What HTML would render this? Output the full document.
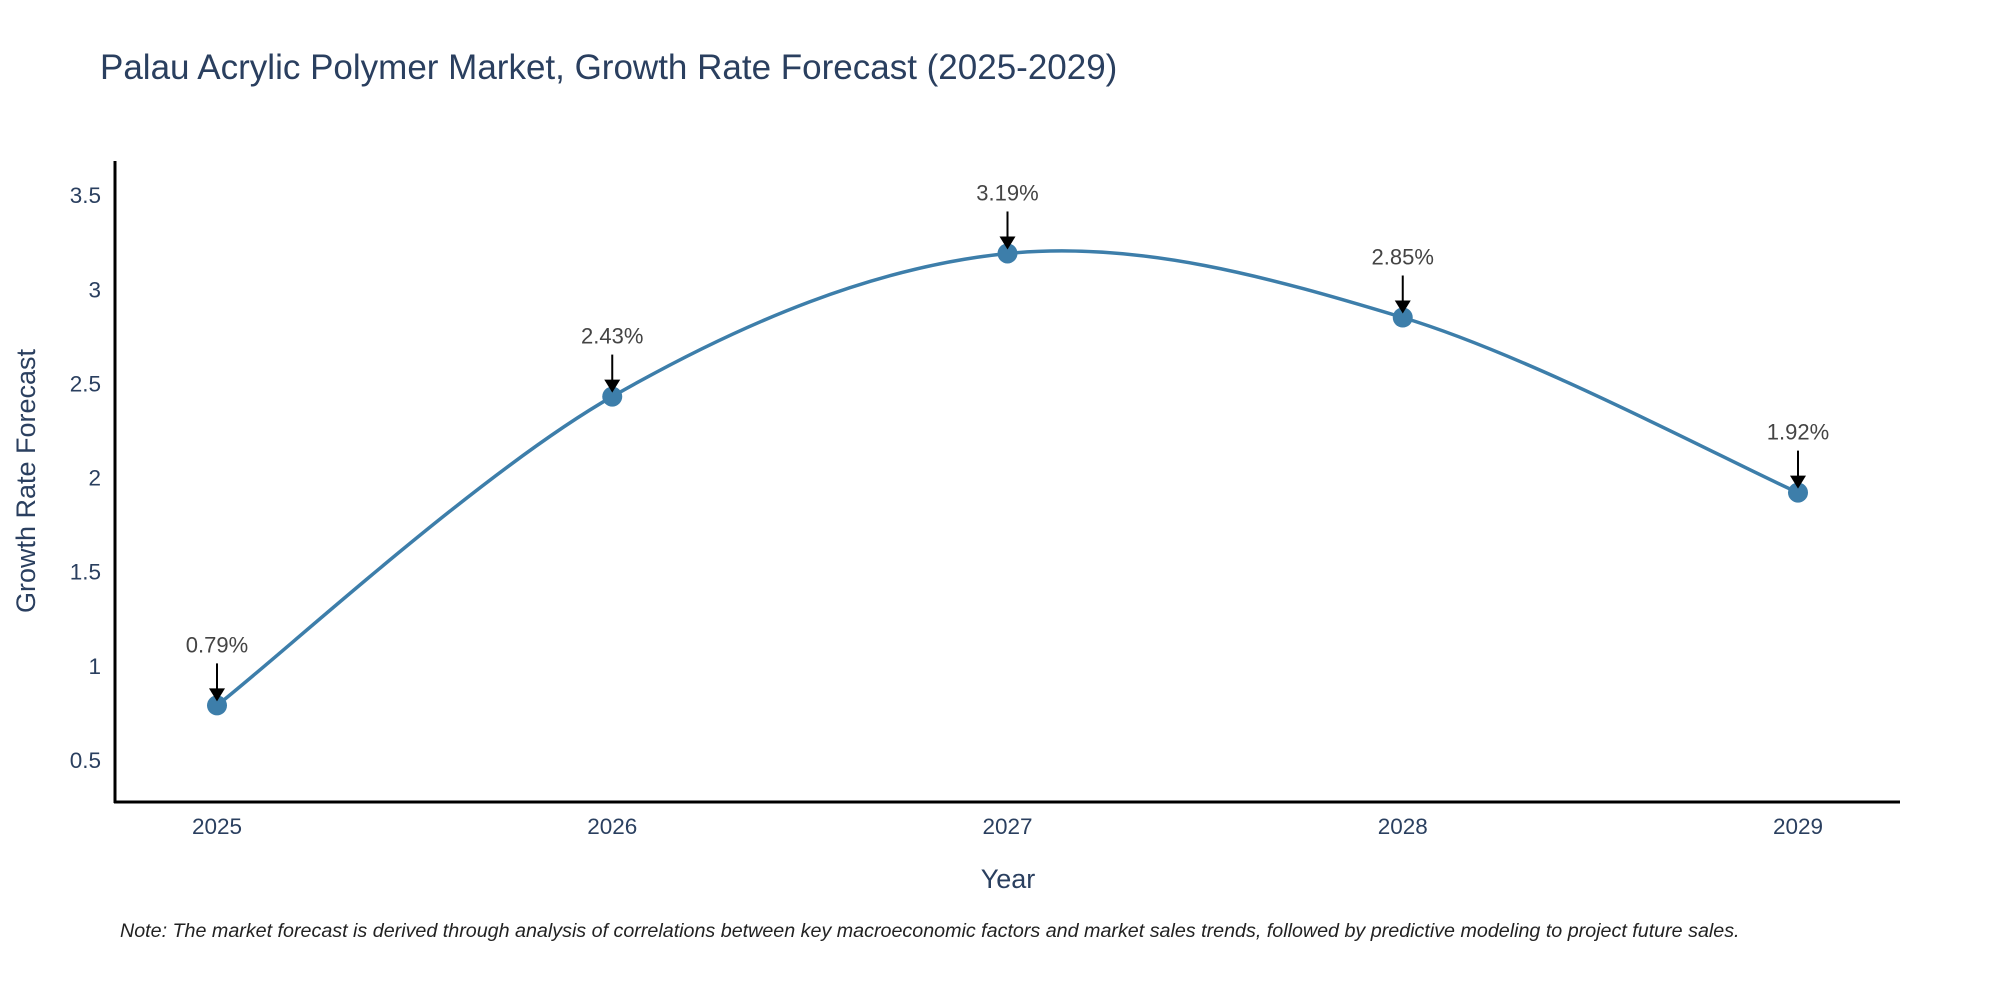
<!DOCTYPE html>
<html><head><meta charset="utf-8">
<style>
body{margin:0;background:#fff;}
svg{display:block;font-family:"Liberation Sans",sans-serif;}
</style></head>
<body>
<svg id="chart" width="2000" height="1000" viewBox="0 0 2000 1000">
  <text x="100" y="79" font-size="35" fill="#2a3f5f">Palau Acrylic Polymer Market, Growth Rate Forecast (2025-2029)</text>
  <g id="yticks"></g>
  <g id="xticks"></g>
  <line x1="115" y1="161" x2="115" y2="803" stroke="#000" stroke-width="3"/>
  <line x1="114" y1="802" x2="1900" y2="802" stroke="#000" stroke-width="3"/>
  <path id="series-line" fill="none" stroke="#3d7eaa" stroke-width="3.5"/>
  <g id="marks"></g>
  <text x="1008" y="888" font-size="27" fill="#2a3f5f" text-anchor="middle">Year</text>
  <text transform="translate(35,481) rotate(-90)" font-size="27" fill="#2a3f5f" text-anchor="middle">Growth Rate Forecast</text>
  <text x="120" y="937" font-size="19.7" font-style="italic" fill="#222">Note: The market forecast is derived through analysis of correlations between key macroeconomic factors and market sales trends, followed by predictive modeling to project future sales.</text>
</svg>
<script>
const years = [2025, 2026, 2027, 2028, 2029];
const growth = [0.79, 2.43, 3.19, 2.85, 1.92];
const yTickValues = [0.5, 1, 1.5, 2, 2.5, 3, 3.5];
const yTickLabels = ["0.5", "1", "1.5", "2", "2.5", "3", "3.5"];
const valueLabels = ["0.79%", "2.43%", "3.19%", "2.85%", "1.92%"];

const NS = "http://www.w3.org/2000/svg";
const xScale = v => 217 + (v - 2025) * 395.25;
const yScale = v => 760 - (v - 0.5) * 188.3;

const yt = document.getElementById('yticks');
yTickValues.forEach((v, i) => {
  const t = document.createElementNS(NS, 'text');
  
  
  t.setAttribute('x', 101); t.setAttribute('y', yScale(v) + 8);
  t.setAttribute('text-anchor', 'end'); t.setAttribute('font-size', '22.5'); t.setAttribute('fill', '#2a3f5f');
  t.textContent = yTickLabels[i];
  yt.appendChild(t);
});
const xt = document.getElementById('xticks');
years.forEach(y => {
  const t = document.createElementNS(NS, 'text');
  
  
  t.setAttribute('x', xScale(y)); t.setAttribute('y', 834);
  t.setAttribute('text-anchor', 'middle'); t.setAttribute('font-size', '22.5'); t.setAttribute('fill', '#2a3f5f');
  t.textContent = String(y);
  xt.appendChild(t);
});

const pts = years.map((y, i) => [xScale(y), yScale(growth[i])]);
let d = 'M' + pts[0][0] + ',' + pts[0][1];
const s = 1 / 6;
for (let i = 0; i < pts.length - 1; i++) {
  const p0 = pts[Math.max(0, i - 1)], p1 = pts[i], p2 = pts[i + 1], p3 = pts[Math.min(pts.length - 1, i + 2)];
  const c1 = [p1[0] + (p2[0] - p0[0]) * s, p1[1] + (p2[1] - p0[1]) * s];
  const c2 = [p2[0] - (p3[0] - p1[0]) * s, p2[1] - (p3[1] - p1[1]) * s];
  d += ' C' + c1.join(',') + ' ' + c2.join(',') + ' ' + p2.join(',');
}
document.getElementById('series-line').setAttribute('d', d);

const mg = document.getElementById('marks');
pts.forEach((p, i) => {
  const c = document.createElementNS(NS, 'circle');
  
  
  c.setAttribute('cx', p[0]); c.setAttribute('cy', p[1]); c.setAttribute('r', 10);
  c.setAttribute('fill', '#3d7eaa');
  mg.appendChild(c);
  const l = document.createElementNS(NS, 'line');
  
  
  l.setAttribute('x1', p[0]); l.setAttribute('y1', p[1] - 42);
  l.setAttribute('x2', p[0]); l.setAttribute('y2', p[1] - 14);
  l.setAttribute('stroke', '#000'); l.setAttribute('stroke-width', '2');
  mg.appendChild(l);
  const h = document.createElementNS(NS, 'polygon');
  
  
  h.setAttribute('points', (p[0] - 8) + ',' + (p[1] - 17) + ' ' + (p[0] + 8) + ',' + (p[1] - 17) + ' ' + p[0] + ',' + (p[1] - 4));
  h.setAttribute('fill', '#000');
  mg.appendChild(h);
  const t = document.createElementNS(NS, 'text');
  
  
  t.setAttribute('x', p[0]); t.setAttribute('y', p[1] - 53);
  t.setAttribute('text-anchor', 'middle'); t.setAttribute('font-size', '22'); t.setAttribute('fill', '#444');
  t.textContent = valueLabels[i];
  mg.appendChild(t);
});
</script>
</body></html>
